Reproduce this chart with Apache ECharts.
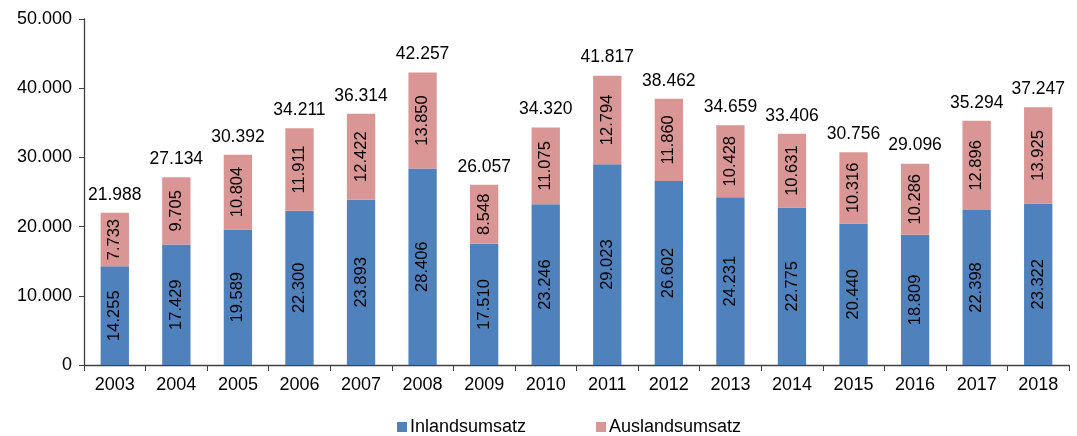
<!DOCTYPE html>
<html><head><meta charset="utf-8">
<script src="https://cdn.jsdelivr.net/npm/echarts@6/dist/echarts.min.js"></script>
<style>html,body{margin:0;padding:0;background:#fff}#c{width:1077px;height:436px}</style>
</head><body><div id="c"></div>
<script>
const categories = ['2003','2004','2005','2006','2007','2008','2009','2010','2011','2012','2013','2014','2015','2016','2017','2018'];
const inland = [14255,17429,19589,22300,23893,28406,17510,23246,29023,26602,24231,22775,20440,18809,22398,23322];
const ausland = [7733,9705,10804,11911,12422,13850,8548,11075,12794,11860,10428,10631,10316,10286,12896,13925];
const totals = [21988,27134,30392,34211,36314,42257,26057,34320,41817,38462,34659,33406,30756,29096,35294,37247];
const seriesNames = ['Inlandsumsatz','Auslandsumsatz'];
const yTicks = [0,10000,20000,30000,40000,50000];

const fmt = v => String(v).replace(/\B(?=(\d{3})+(?!\d))/g, '.');
const font = '"Liberation Sans", Arial, sans-serif';
const chart = echarts.init(document.getElementById('c'));
chart.setOption({
  animation:false,
  textStyle:{fontFamily:font},
  grid:{left:84,right:8,top:19,bottom:71},
  legend:{top:413,left:392,itemWidth:10,itemHeight:10,itemGap:70,icon:'rect',
    textStyle:{fontSize:18,color:'#000',fontFamily:font,padding:[0,0,0,-2]},data:seriesNames},
  xAxis:{type:'category',data:categories,
    axisLine:{lineStyle:{color:'#404040',width:1.3}},
    axisTick:{show:true,length:6,lineStyle:{color:'#404040'}},
    axisLabel:{fontSize:18,color:'#000',margin:11,fontFamily:font}},
  yAxis:{type:'value',min:yTicks[0],max:yTicks[yTicks.length-1],interval:10000,
    axisLine:{show:true,lineStyle:{color:'#404040',width:1.3}},
    axisTick:{show:true,length:5,lineStyle:{color:'#404040'}},
    splitLine:{show:false},
    axisLabel:{fontSize:18,color:'#000',margin:12,fontFamily:font,formatter:v=>fmt(v)}},
  series:[
    {name:seriesNames[0],type:'bar',stack:'s',data:inland,barWidth:'46%',
     itemStyle:{color:'#4F81BD'},
     label:{show:true,position:'inside',rotate:90,fontSize:16.5,color:'#000',fontFamily:font,formatter:p=>fmt(p.value)}},
    {name:seriesNames[1],type:'bar',stack:'s',data:ausland,barWidth:'46%',
     itemStyle:{color:'#D99694'},
     label:{show:true,position:'inside',rotate:90,fontSize:16.5,color:'#000',fontFamily:font,formatter:p=>fmt(p.value)}},
    {name:'total',type:'bar',stack:'s',data:ausland.map(()=>0),barWidth:'46%',
     itemStyle:{color:'transparent'},silent:true,
     label:{show:true,position:'top',distance:9,fontSize:17.5,color:'#000',fontFamily:font,formatter:p=>fmt(totals[p.dataIndex])}}
  ]
});
</script></body></html>
